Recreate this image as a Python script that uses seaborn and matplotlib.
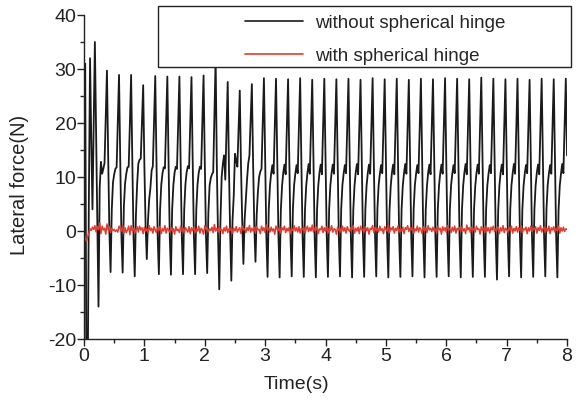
import numpy as np
import pandas as pd
import seaborn as sns
import matplotlib
matplotlib.use("Agg")
import matplotlib.pyplot as plt
from matplotlib.patches import Rectangle
from matplotlib.ticker import MultipleLocator

# sampled every 0.02 s, one row = 0.2 s (one stroke)
dt = 0.02
without_hinge = [
    0.0, 31.0, -30.0, -30.0, 5.0, 32.0, 17.0, 4.0, 19.0, 35.0,
    18.0, 2.0, -14.0, 8.0, 12.8, 10.6, 11.5, 12.6, 21.0, 29.7,
    14.0, 0.0, -7.6, 4.0, 9.0, 10.5, 11.5, 11.8, 20.0, 28.9,
    13.0, -1.0, -7.7, 4.5, 8.8, 10.6, 11.8, 11.9, 20.0, 28.9,
    13.0, -1.0, -8.4, 3.0, 8.7, 12.5, 13.2, 13.4, 20.0, 27.0,
    12.0, 1.0, -5.2, 2.0, 5.9, 8.0, 11.2, 12.0, 20.0, 28.7,
    13.0, -1.0, -8.0, 4.0, 8.6, 10.7, 11.8, 11.6, 20.0, 28.6,
    13.0, -1.0, -8.1, 4.0, 8.5, 10.8, 11.9, 11.5, 20.0, 28.6,
    13.0, -1.0, -8.0, 4.0, 8.7, 10.9, 12.0, 11.6, 20.0, 28.5,
    13.0, -1.0, -8.0, 4.0, 8.6, 10.8, 11.9, 11.5, 20.0, 28.8,
    13.0, -1.0, -7.8, 3.5, 8.4, 9.8, 10.5, 10.9, 21.0, 32.0,
    12.0, -1.0, -10.8, 2.0, 10.0, 12.5, 14.0, 9.5, 18.5, 27.6,
    12.0, 0.0, -9.2, 2.0, 6.5, 14.3, 13.0, 11.9, 19.0, 26.0,
    12.0, 2.0, -6.1, 2.0, 5.9, 9.5, 12.5, 14.0, 20.5, 27.2,
    13.0, 1.0, -5.7, 3.0, 7.2, 10.0, 11.0, 11.5, 20.0, 28.3,
    13.0, -1.0, -8.5, 4.0, 8.4, 10.7, 12.2, 10.6, 19.2, 28.2,
    13.2, -0.8, -8.6, 3.8, 8.3, 10.8, 12.3, 10.5, 19.0, 28.1,
    13.1, -1.1, -8.4, 4.1, 8.5, 10.6, 12.2, 10.7, 19.3, 28.3,
    12.9, -0.9, -8.5, 3.9, 8.3, 10.7, 12.4, 10.6, 19.1, 28.0,
    13.0, -1.0, -8.6, 4.0, 8.4, 10.8, 12.3, 10.5, 19.2, 28.2,
    13.1, -1.0, -8.5, 4.0, 8.4, 10.7, 12.3, 10.6, 19.1, 28.1,
    13.0, -0.9, -8.4, 4.1, 8.5, 10.6, 12.2, 10.7, 19.2, 28.2,
    13.2, -1.1, -8.6, 3.9, 8.3, 10.8, 12.4, 10.5, 19.0, 28.0,
    13.0, -1.0, -8.5, 4.0, 8.4, 10.7, 12.3, 10.6, 19.2, 28.3,
    12.9, -0.8, -8.4, 4.2, 8.5, 10.6, 12.2, 10.7, 19.3, 28.1,
    13.1, -1.0, -8.6, 3.8, 8.3, 10.8, 12.3, 10.5, 19.1, 28.2,
    13.0, -1.1, -8.5, 4.0, 8.4, 10.7, 12.4, 10.6, 19.2, 28.0,
    13.2, -0.9, -8.4, 4.1, 8.5, 10.6, 12.2, 10.7, 19.0, 28.2,
    13.0, -1.0, -8.6, 3.9, 8.3, 10.8, 12.3, 10.5, 19.3, 28.1,
    13.1, -1.0, -8.5, 4.0, 8.4, 10.7, 12.3, 10.6, 19.2, 28.3,
    12.9, -0.8, -8.4, 4.1, 8.5, 10.6, 12.2, 10.7, 19.1, 28.2,
    13.0, -1.1, -8.6, 3.9, 8.4, 10.8, 12.4, 10.5, 19.2, 28.1,
    13.1, -1.0, -8.5, 4.0, 8.3, 10.7, 12.3, 10.6, 19.3, 28.4,
    13.3, -1.0, -8.5, 4.0, 8.4, 10.6, 12.2, 10.7, 19.1, 28.2,
    13.0, -1.2, -9.0, 3.8, 8.4, 10.8, 12.3, 10.5, 19.2, 28.1,
    13.1, -0.9, -8.4, 4.1, 8.5, 10.7, 12.4, 10.6, 19.0, 28.2,
    13.0, -1.0, -8.6, 3.9, 8.3, 10.6, 12.2, 10.7, 19.2, 28.0,
    13.2, -1.1, -8.5, 4.0, 8.4, 10.8, 12.3, 10.5, 19.3, 28.2,
    13.0, -0.9, -8.4, 4.1, 8.5, 10.7, 12.2, 10.6, 19.1, 28.1,
    13.1, -1.0, -8.6, 3.9, 8.4, 10.6, 12.4, 10.7, 19.2, 28.2,
    14.0,
]
with_hinge = [
    0.0, -1.3, -1.9, -1.1, -0.4, 0.4, 0.1, 0.7, 0.3, 1.0,
    -0.2, 0.8, 0.3, 1.5, -0.5, 0.9, 0.2, 0.5, -0.6, 1.3,
    0.2, 0.8, -0.3, 0.5, 0.1, 0.3, -0.1, 0.2, -0.2, 0.9,
    0.4, 0.0, 1.1, -0.5, 0.6, -0.3, 0.2, 0.9, -0.7, 1.0,
    0.1, 0.5, -0.4, 0.3, 0.8, -0.2, 0.9, 0.2, 0.6, -0.5,
    0.7, 0.0, 0.4, -0.3, 1.0, 0.1, 0.5, -0.4, 0.8, 0.2,
    -0.3, 0.6, 0.1, 0.9, -0.5, 0.4, 0.0, 1.0, -0.4, 0.5,
    0.2, -0.2, 0.7, 0.0, 0.4, -0.6, 0.8, 0.1, 0.3, -0.3,
    0.9, 0.0, 0.5, -0.4, 0.6, 0.2, -0.2, 0.8, -0.5, 0.6,
    0.1, 0.7, -0.3, 0.4, 0.0, 0.9, -0.4, 0.5, 0.2, -0.6,
    1.0, 0.3, 0.6, -0.2, 0.4, 0.1, 0.7, -0.3, 1.2, 0.0,
    0.5, -0.2, 0.8, 0.1, 0.3, -0.5, 0.6, 0.0, 0.9, -0.3,
    0.4, 0.1, 0.7, -0.4, 0.5, 0.0, 0.8, -0.2, 0.3, 0.6,
    -0.5, 0.9, 0.2, 0.4, -0.3, 0.6, 0.1, 1.0, -0.2, 0.5,
    0.0, 0.7, -0.4, 0.8, 0.2, 0.3, -0.5, 0.9, 0.1, 0.6,
    -0.3, 1.1, 0.2, 0.5, -0.2, 0.7, 0.0, 0.4, -0.6, 0.9,
    0.3, 0.1, 0.8, -0.4, 0.6, 0.2, 0.9, -0.3, 0.5, 0.0,
    0.7, -0.5, 0.4, 0.1, 1.0, 0.0, 0.6, -0.2, 0.8, -0.4,
    0.5, 0.2, 0.7, -0.3, 0.3, 0.9, -0.1, 0.6, 0.0, 1.1,
    -0.2, 0.5, 0.1, 0.8, -0.5, 0.4, 0.2, 0.9, -0.3, 0.6,
    0.0, 0.8, -0.4, 0.5, 0.1, 1.0, -0.2, 0.4, 0.3, -0.6,
    0.7, 0.1, 0.5, -0.3, 0.9, 0.0, 0.6, -0.4, 0.8, 0.2,
    -0.1, 0.6, 0.3, 1.0, -0.4, 0.5, 0.0, 0.7, -0.5, 0.9,
    0.2, 0.4, -0.2, 0.8, 0.1, 0.6, -0.6, 0.5, 0.3, 1.0,
    -0.3, 0.7, 0.0, 0.5, -0.2, 0.9, 0.1, 0.4, -0.5, 0.8,
    0.3, 0.0, 1.1, -0.3, 0.6, 0.2, 0.8, -0.4, 0.5, 0.1,
    0.9, -0.2, 0.4, 0.0, 0.7, -0.5, 0.6, 0.3, 1.0, -0.1,
    0.5, 0.2, 0.8, -0.4, 0.4, 0.0, 0.9, -0.2, 0.6, 0.3,
    -0.5, 0.8, 0.1, 0.6, -0.3, 1.0, 0.2, 0.5, -0.1, 0.7,
    0.0, 0.4, -0.4, 0.9, 0.2, 0.5, -0.6, 0.8, 0.1, 0.6,
    -0.2, 1.0, 0.3, 0.4, -0.3, 0.7, 0.0, 0.9, -0.4, 0.5,
    0.2, 0.6, -0.1, 0.8, 0.0, 0.4, -0.5, 1.1, 0.2, 0.6,
    -0.3, 0.7, 0.1, 0.5, -0.2, 0.9, 0.3, 0.4, -0.6, 0.8,
    0.1, 0.5, -0.3, 1.0, 0.0, 0.6, -0.4, 0.7, 0.2, 0.9,
    -0.1, 0.4, 0.2, 0.8, -0.5, 0.6, 0.0, 1.0, -0.3, 0.5,
    0.3, -0.2, 0.7, 0.1, 0.9, -0.4, 0.5, 0.0, 0.8, -0.2,
    0.6, 0.1, 1.0, -0.3, 0.4, 0.2, 0.7, -0.5, 0.6, 0.0,
    0.9, -0.1, 0.5, 0.3, 0.8, -0.4, 0.6, 0.1, 1.0, -0.2,
    0.4, 0.7, -0.3, 0.5, 0.0, 0.9, -0.5, 0.6, 0.2, 0.8,
    -0.2, 0.5, 0.1, 0.9, -0.4, 0.6, 0.0, 0.7, -0.1, 0.4,
    0.3,
]
time = np.round(np.arange(len(without_hinge)) * dt, 2)

df = pd.DataFrame({'Time': time, 'without': without_hinge, 'with': with_hinge})

sns.set_style("ticks")
plt.rcParams['font.family'] = ['Liberation Sans', 'DejaVu Sans']
plt.rcParams['axes.unicode_minus'] = False

fig, ax = plt.subplots(figsize=(5.77, 4.06), dpi=100)
fig.subplots_adjust(left=0.1456, right=0.9827, bottom=0.1626, top=0.9606)

sns.lineplot(data=df, x='Time', y='without', color='#1a1a1a', linewidth=1.3,
             estimator=None, ax=ax, label='without spherical hinge')
sns.lineplot(data=df, x='Time', y='with', color='#e33b2e', linewidth=1.1,
             estimator=None, ax=ax, label='with spherical hinge')

ax.set_xlim(0, 8)
ax.set_ylim(-20, 40)
ax.xaxis.set_major_locator(MultipleLocator(1))
ax.xaxis.set_minor_locator(MultipleLocator(0.5))
ax.yaxis.set_major_locator(MultipleLocator(10))
ax.yaxis.set_minor_locator(MultipleLocator(5))
ax.tick_params(which='major', length=5, width=1, labelsize=14, color='#222222',
               labelcolor='#222222')
ax.tick_params(axis='y', which='major', pad=0.5)
ax.tick_params(axis='x', which='major', pad=1)
ax.tick_params(which='minor', length=3, width=1, color='#222222')
for side in ['top', 'right']:
    ax.spines[side].set_visible(False)
for side in ['left', 'bottom']:
    ax.spines[side].set_linewidth(1)
    ax.spines[side].set_color('#222222')
ax.set_xlabel('Time(s)', fontsize=14, color='#222222')
ax.set_ylabel('Lateral force(N)', fontsize=14.5, color='#222222')
ax.xaxis.set_label_coords(0.439, -0.11)
ax.yaxis.set_label_coords(-0.114, 0.48)

# legend: wide Origin-style box, text on the right
box = Rectangle((158 / 577, 1 - 68 / 406), (571 - 158) / 577, (68 - 7) / 406,
                transform=fig.transFigure, facecolor='white', edgecolor='#222222',
                linewidth=1, zorder=4, clip_on=False)
ax.add_patch(box)
leg = ax.legend(loc='upper left', bbox_to_anchor=(245 / 577, 1 - 15 / 406),
                bbox_transform=fig.transFigure, frameon=False, fontsize=13.5,
                handlelength=3.1, handletextpad=0.65, labelspacing=0.85,
                borderpad=0, borderaxespad=0)
leg.set_zorder(6)
for line in leg.get_lines():
    line.set_linewidth(1.2)

plt.savefig('out.png', dpi=100)
